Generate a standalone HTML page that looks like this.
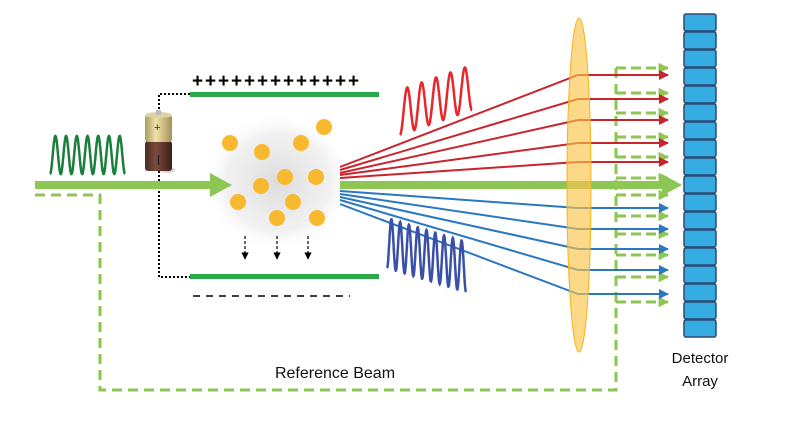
<!DOCTYPE html>
<html><head><style>
html,body{margin:0;padding:0;background:#fff;}
svg{display:block;}
text{font-family:"Liberation Sans",sans-serif;}
</style></head><body>
<svg id="s" width="785" height="425" viewBox="0 0 785 425" xmlns="http://www.w3.org/2000/svg">
<defs>
<radialGradient id="glow" cx="0.5" cy="0.5" r="0.5">
<stop offset="0" stop-color="#d8d8d8" stop-opacity="0.9"/>
<stop offset="0.7" stop-color="#e8e8e8" stop-opacity="0.6"/>
<stop offset="1" stop-color="#fff" stop-opacity="0"/>
</radialGradient>
<linearGradient id="bt" x1="0" x2="1"><stop offset="0" stop-color="#a99a5e"/><stop offset="0.4" stop-color="#efe2a8"/><stop offset="1" stop-color="#a3925a"/></linearGradient>
<linearGradient id="bb" x1="0" x2="1"><stop offset="0" stop-color="#4a2a22"/><stop offset="0.4" stop-color="#7b4b3d"/><stop offset="1" stop-color="#3d2019"/></linearGradient>
<marker id="ar" viewBox="0 0 10 10" refX="9" refY="5" markerWidth="5" markerHeight="5" orient="auto"><path d="M0,0 L10,5 L0,10 z" fill="#c8242b"/></marker>
<marker id="ab" viewBox="0 0 10 10" refX="9" refY="5" markerWidth="5" markerHeight="5" orient="auto"><path d="M0,0 L10,5 L0,10 z" fill="#2a78c0"/></marker>
<marker id="ag" viewBox="0 0 10 10" refX="9" refY="5" markerWidth="3.5" markerHeight="3.5" orient="auto"><path d="M0,0 L10,5 L0,10 z" fill="#8dc653"/></marker>
<marker id="ak" viewBox="0 0 10 10" refX="9" refY="5" markerWidth="6" markerHeight="6" orient="auto"><path d="M0,0 L10,5 L0,10 z" fill="#000"/></marker>
</defs>

<ellipse cx="278" cy="182" rx="75" ry="70" fill="url(#glow)"/>

<rect x="190" y="92" width="189" height="5" fill="#2aa84a"/>
<rect x="190" y="274" width="189" height="5" fill="#2aa84a"/>
<text x="192" y="87" font-size="19" font-weight="bold" letter-spacing="1.9" fill="#000">+++++++++++++</text>
<path d="M193,296 H350" stroke="#000" stroke-width="1.5" stroke-dasharray="7,6"/>

<path d="M190,94 H159 V277 H190" fill="none" stroke="#000" stroke-width="2" stroke-dasharray="2,2"/>

<ellipse cx="167" cy="170" rx="8" ry="3" fill="#bbb" opacity="0.6"/>
<rect x="145" y="141" width="27" height="30" rx="3" fill="url(#bb)"/>
<rect x="145" y="115" width="27" height="27" rx="3" fill="url(#bt)"/>
<ellipse cx="158.5" cy="115" rx="13.5" ry="3" fill="#ddd3a0"/>
<rect x="156" y="110" width="5" height="5" fill="#bbb"/>
<text x="154" y="131" font-size="11" fill="#333">+</text>
<line x1="158.5" y1="155" x2="158.5" y2="165" stroke="#222" stroke-width="1.2"/>

<path d="M35,195 H100 V390 H616 V68" fill="none" stroke="#8dc653" stroke-width="3" stroke-dasharray="10,6"/>
<g id="branches" fill="none" stroke="#8dc653" stroke-width="3" stroke-dasharray="10,6"></g>

<g id="rays" fill="none" stroke-width="2"></g>

<rect x="35" y="181" width="180" height="8" fill="#8dc653"/>
<path d="M210,173 L232,185 L210,197 z" fill="#8dc653"/>
<rect x="340" y="181" width="325" height="8" fill="#8dc653"/>
<path d="M662,174 L682,185 L662,196 z" fill="#8dc653"/>

<g fill="#f8b92e">
<circle cx="230" cy="143" r="8"/><circle cx="262" cy="152" r="8"/><circle cx="301" cy="143" r="8"/>
<circle cx="324" cy="127" r="8"/><circle cx="285" cy="177" r="8"/><circle cx="316" cy="177" r="8"/>
<circle cx="261" cy="186" r="8"/><circle cx="238" cy="202" r="8"/><circle cx="293" cy="202" r="8"/>
<circle cx="277" cy="218" r="8"/><circle cx="317" cy="218" r="8"/>
</g>
<g stroke="#000" stroke-width="1.2" stroke-dasharray="3,2" marker-end="url(#ak)">
<line x1="245" y1="236" x2="245" y2="259"/><line x1="277" y1="236" x2="277" y2="259"/><line x1="308" y1="236" x2="308" y2="259"/>
</g>

<path id="gw" fill="none" stroke="#1a7f3a" stroke-width="2.5"/>
<path id="rw" fill="none" stroke="#e8262c" stroke-width="2.5"/>
<path id="bw" fill="none" stroke="#3a4fa8" stroke-width="2.5"/>

<ellipse cx="579" cy="185" rx="12" ry="167" fill="#fbc34a" fill-opacity="0.65" stroke="#f6b21c" stroke-width="1"/>

<g id="det"></g>

<text x="335" y="378" font-size="16" text-anchor="middle" fill="#111">Reference Beam</text>
<text x="700" y="363" font-size="15" text-anchor="middle" fill="#111">Detector</text>
<text x="700" y="386" font-size="15" text-anchor="middle" fill="#111">Array</text>
</svg>
<script>
var NS="http://www.w3.org/2000/svg";
function el(p,t,a){var e=document.createElementNS(NS,t);for(var k in a)e.setAttribute(k,a[k]);p.appendChild(e);return e;}
var rays=document.getElementById('rays');
var red=[[167,75],[170,99],[173,120],[175,143],[178,162]];
red.forEach(function(r){el(rays,'path',{d:'M340,'+r[0]+' L578,'+r[1]+' L668,'+r[1],stroke:'#c8242b','marker-end':'url(#ar)'});});
var blue=[[191,208],[194,229],[197,249],[200,270],[204,294]];
blue.forEach(function(r){el(rays,'path',{d:'M340,'+r[0]+' L578,'+r[1]+' L668,'+r[1],stroke:'#2a78c0','marker-end':'url(#ab)'});});
var br=document.getElementById('branches');
[68,93,113,137,157,178,195,216,234,255,277,302].forEach(function(y){
 el(br,'path',{d:'M616,'+y+' H668','marker-end':'url(#ag)','stroke-dasharray':'10,5'});});
var det=document.getElementById('det');
for(var i=0;i<18;i++){el(det,'rect',{x:684,y:14+i*18,width:32,height:17,rx:2,fill:'#35ade2',stroke:'#2c4a72','stroke-width':1.5});}
function wave(id,x0,y0,x1,y1,n,amp){
 var d='',N=300;for(var i=0;i<=N;i++){var t=i/N;var x=x0+(x1-x0)*t,y=y0+(y1-y0)*t;
 var ph=t*n*2*Math.PI;y-=amp*(1-Math.cos(ph))/2;
 d+=(i?'L':'M')+x.toFixed(1)+','+y.toFixed(1);}
 document.getElementById(id).setAttribute('d',d);}
wave('gw',50,174,125,174,7,38);
wave('rw',400,135,472,110,5,45);
wave('bw',387,268,466,292,9,50);
</script>
</body></html>
